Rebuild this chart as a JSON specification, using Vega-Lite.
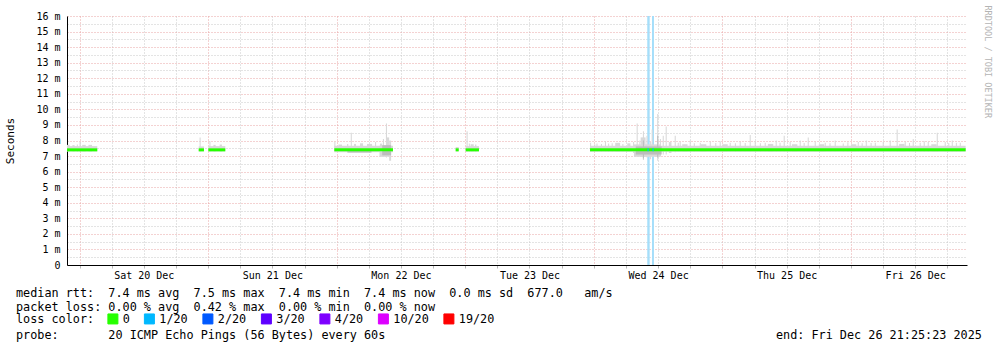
{
  "$schema": "https://vega.github.io/schema/vega-lite/v6.json",
  "width": 900,
  "height": 249,
  "autosize": {"type": "none"},
  "padding": {"left": 67, "top": 16, "right": 30, "bottom": 82},
  "background": "white",
  "config": {"view": {"stroke": null}, "font": "DejaVu Sans Mono"},
  "title": {
    "text": [
      "median rtt:\u00a0\u00a07.4 ms avg\u00a0\u00a07.5 ms max\u00a0\u00a07.4 ms min\u00a0\u00a07.4 ms now\u00a0\u00a00.0 ms sd\u00a0\u00a0677.0\u00a0\u00a0\u00a0am/s",
      "packet loss: 0.00 % avg\u00a0\u00a00.42 % max\u00a0\u00a00.00 % min\u00a0\u00a00.00 % now"
    ],
    "subtitle": "probe:\u00a0\u00a0\u00a0\u00a0\u00a0\u00a0\u00a020 ICMP Echo Pings (56 Bytes) every 60s\u00a0\u00a0\u00a0\u00a0\u00a0\u00a0\u00a0\u00a0\u00a0\u00a0\u00a0\u00a0\u00a0\u00a0\u00a0\u00a0\u00a0\u00a0\u00a0\u00a0\u00a0\u00a0\u00a0\u00a0\u00a0\u00a0\u00a0\u00a0\u00a0\u00a0\u00a0\u00a0\u00a0\u00a0\u00a0\u00a0\u00a0\u00a0\u00a0\u00a0\u00a0\u00a0\u00a0\u00a0\u00a0\u00a0\u00a0\u00a0\u00a0\u00a0\u00a0\u00a0\u00a0\u00a0\u00a0end: Fri Dec 26 21:25:23 2025",
    "orient": "bottom",
    "anchor": "start",
    "frame": "group",
    "dx": -51,
    "dy": -42,
    "offset": 4,
    "font": "DejaVu Sans Mono",
    "fontSize": 11.8,
    "fontWeight": "normal",
    "color": "#000000",
    "lineHeight": 14,
    "baseline": "top",
    "subtitleFont": "DejaVu Sans Mono",
    "subtitleFontSize": 11.8,
    "subtitleFontWeight": "normal",
    "subtitleColor": "#000000",
    "subtitleLineHeight": 14,
    "subtitlePadding": 16
  },
  "datasets": {
    "lossbg": [
      {"t": "2025-12-24T09:59", "t2": "2025-12-24T10:26"},
      {"t": "2025-12-24T10:52", "t2": "2025-12-24T11:14"}
    ],
    "smokeOuter": [
      {"t": "2025-12-19T21:40", "t2": "2025-12-20T03:19", "lo": 7.30, "hi": 7.64},
      {"t": "2025-12-19T21:40", "t2": "2025-12-19T22:10", "lo": 7.30, "hi": 7.72},
      {"t": "2025-12-19T22:40", "t2": "2025-12-19T23:05", "lo": 7.30, "hi": 7.70},
      {"t": "2025-12-19T23:30", "t2": "2025-12-19T23:42", "lo": 7.30, "hi": 7.75},
      {"t": "2025-12-20T00:00", "t2": "2025-12-20T00:15", "lo": 7.30, "hi": 7.92},
      {"t": "2025-12-20T00:30", "t2": "2025-12-20T01:10", "lo": 7.30, "hi": 7.72},
      {"t": "2025-12-20T01:40", "t2": "2025-12-20T02:20", "lo": 7.30, "hi": 7.72},
      {"t": "2025-12-20T22:15", "t2": "2025-12-20T23:14", "lo": 7.30, "hi": 7.62},
      {"t": "2025-12-20T22:25", "t2": "2025-12-20T22:37", "lo": 7.30, "hi": 8.20},
      {"t": "2025-12-21T00:03", "t2": "2025-12-21T03:13", "lo": 7.30, "hi": 7.64},
      {"t": "2025-12-21T00:15", "t2": "2025-12-21T00:27", "lo": 7.30, "hi": 7.95},
      {"t": "2025-12-21T01:00", "t2": "2025-12-21T01:25", "lo": 7.30, "hi": 7.72},
      {"t": "2025-12-21T02:10", "t2": "2025-12-21T02:35", "lo": 7.30, "hi": 7.74},
      {"t": "2025-12-21T23:34", "t2": "2025-12-22T10:31", "lo": 7.25, "hi": 7.67},
      {"t": "2025-12-21T23:34", "t2": "2025-12-21T23:46", "lo": 7.30, "hi": 7.90},
      {"t": "2025-12-22T00:20", "t2": "2025-12-22T01:00", "lo": 7.30, "hi": 7.74},
      {"t": "2025-12-22T01:57", "t2": "2025-12-22T02:10", "lo": 7.30, "hi": 7.78},
      {"t": "2025-12-22T02:38", "t2": "2025-12-22T02:50", "lo": 7.30, "hi": 8.50},
      {"t": "2025-12-22T03:15", "t2": "2025-12-22T03:37", "lo": 7.30, "hi": 7.78},
      {"t": "2025-12-22T04:22", "t2": "2025-12-22T04:56", "lo": 7.30, "hi": 7.82},
      {"t": "2025-12-22T05:40", "t2": "2025-12-22T06:37", "lo": 7.30, "hi": 7.78},
      {"t": "2025-12-22T07:10", "t2": "2025-12-22T07:22", "lo": 7.30, "hi": 7.90},
      {"t": "2025-12-22T08:00", "t2": "2025-12-22T09:12", "lo": 6.95, "hi": 7.66},
      {"t": "2025-12-22T08:05", "t2": "2025-12-22T08:30", "lo": 7.00, "hi": 7.80},
      {"t": "2025-12-22T08:38", "t2": "2025-12-22T08:50", "lo": 7.00, "hi": 8.10},
      {"t": "2025-12-22T09:12", "t2": "2025-12-22T09:24", "lo": 6.90, "hi": 9.10},
      {"t": "2025-12-22T09:24", "t2": "2025-12-22T09:48", "lo": 6.95, "hi": 8.20},
      {"t": "2025-12-22T09:48", "t2": "2025-12-22T10:10", "lo": 6.70, "hi": 8.00},
      {"t": "2025-12-22T22:13", "t2": "2025-12-22T22:47", "lo": 7.30, "hi": 7.58},
      {"t": "2025-12-23T00:05", "t2": "2025-12-23T02:34", "lo": 7.30, "hi": 7.64},
      {"t": "2025-12-23T00:15", "t2": "2025-12-23T00:27", "lo": 7.30, "hi": 8.60},
      {"t": "2025-12-23T00:40", "t2": "2025-12-23T00:52", "lo": 7.30, "hi": 7.80},
      {"t": "2025-12-23T01:00", "t2": "2025-12-23T01:35", "lo": 7.30, "hi": 7.76},
      {"t": "2025-12-23T01:50", "t2": "2025-12-23T02:05", "lo": 7.30, "hi": 7.74},
      {"t": "2025-12-23T23:18", "t2": "2025-12-26T21:25", "lo": 7.27, "hi": 7.67},
      {"t": "2025-12-23T23:18", "t2": "2025-12-23T23:30", "lo": 7.30, "hi": 7.85},
      {"t": "2025-12-24T00:05", "t2": "2025-12-24T00:17", "lo": 7.30, "hi": 7.76},
      {"t": "2025-12-24T00:30", "t2": "2025-12-24T00:42", "lo": 7.30, "hi": 7.80},
      {"t": "2025-12-24T01:20", "t2": "2025-12-24T01:32", "lo": 7.30, "hi": 7.78},
      {"t": "2025-12-24T02:05", "t2": "2025-12-24T02:17", "lo": 7.30, "hi": 7.95},
      {"t": "2025-12-24T02:40", "t2": "2025-12-24T02:52", "lo": 7.30, "hi": 7.80},
      {"t": "2025-12-24T03:20", "t2": "2025-12-24T03:32", "lo": 7.30, "hi": 7.82},
      {"t": "2025-12-24T04:00", "t2": "2025-12-24T04:55", "lo": 7.30, "hi": 7.85},
      {"t": "2025-12-24T05:20", "t2": "2025-12-24T05:32", "lo": 7.30, "hi": 7.78},
      {"t": "2025-12-24T06:15", "t2": "2025-12-24T06:50", "lo": 7.30, "hi": 7.82},
      {"t": "2025-12-24T07:20", "t2": "2025-12-24T07:32", "lo": 7.20, "hi": 7.90},
      {"t": "2025-12-24T07:30", "t2": "2025-12-24T12:30", "lo": 6.95, "hi": 7.75},
      {"t": "2025-12-24T08:00", "t2": "2025-12-24T08:12", "lo": 7.10, "hi": 9.10},
      {"t": "2025-12-24T08:30", "t2": "2025-12-24T08:42", "lo": 7.00, "hi": 8.00},
      {"t": "2025-12-24T08:45", "t2": "2025-12-24T09:40", "lo": 6.95, "hi": 8.20},
      {"t": "2025-12-24T09:10", "t2": "2025-12-24T09:22", "lo": 6.75, "hi": 8.60},
      {"t": "2025-12-24T09:50", "t2": "2025-12-24T10:02", "lo": 6.90, "hi": 8.30},
      {"t": "2025-12-24T10:30", "t2": "2025-12-24T10:42", "lo": 6.80, "hi": 7.90},
      {"t": "2025-12-24T10:48", "t2": "2025-12-24T11:00", "lo": 6.95, "hi": 8.70},
      {"t": "2025-12-24T11:50", "t2": "2025-12-24T12:02", "lo": 6.70, "hi": 9.70},
      {"t": "2025-12-24T12:20", "t2": "2025-12-24T12:32", "lo": 7.00, "hi": 8.10},
      {"t": "2025-12-24T12:52", "t2": "2025-12-24T13:04", "lo": 7.10, "hi": 8.30},
      {"t": "2025-12-24T13:25", "t2": "2025-12-24T13:37", "lo": 7.10, "hi": 8.90},
      {"t": "2025-12-24T14:00", "t2": "2025-12-24T14:30", "lo": 7.20, "hi": 7.90},
      {"t": "2025-12-24T15:06", "t2": "2025-12-24T15:18", "lo": 7.25, "hi": 8.30},
      {"t": "2025-12-24T15:40", "t2": "2025-12-24T15:52", "lo": 7.30, "hi": 7.85},
      {"t": "2025-12-24T16:02", "t2": "2025-12-24T16:14", "lo": 7.30, "hi": 7.90},
      {"t": "2025-12-24T16:30", "t2": "2025-12-24T17:30", "lo": 7.30, "hi": 7.76},
      {"t": "2025-12-24T17:54", "t2": "2025-12-24T18:06", "lo": 7.30, "hi": 8.00},
      {"t": "2025-12-24T18:40", "t2": "2025-12-24T18:52", "lo": 7.30, "hi": 7.82},
      {"t": "2025-12-24T19:47", "t2": "2025-12-24T19:59", "lo": 7.30, "hi": 7.85},
      {"t": "2025-12-24T20:00", "t2": "2025-12-24T21:00", "lo": 7.30, "hi": 7.76},
      {"t": "2025-12-24T21:39", "t2": "2025-12-24T21:51", "lo": 7.30, "hi": 7.90},
      {"t": "2025-12-24T22:40", "t2": "2025-12-24T22:52", "lo": 7.30, "hi": 7.84},
      {"t": "2025-12-24T23:30", "t2": "2025-12-24T23:42", "lo": 7.30, "hi": 7.95},
      {"t": "2025-12-25T00:00", "t2": "2025-12-25T01:00", "lo": 7.30, "hi": 7.76},
      {"t": "2025-12-25T01:22", "t2": "2025-12-25T01:34", "lo": 7.30, "hi": 7.85},
      {"t": "2025-12-25T02:20", "t2": "2025-12-25T02:32", "lo": 7.30, "hi": 7.82},
      {"t": "2025-12-25T03:14", "t2": "2025-12-25T03:26", "lo": 7.30, "hi": 7.90},
      {"t": "2025-12-25T04:10", "t2": "2025-12-25T04:22", "lo": 7.30, "hi": 7.84},
      {"t": "2025-12-25T05:06", "t2": "2025-12-25T05:18", "lo": 7.30, "hi": 8.35},
      {"t": "2025-12-25T06:02", "t2": "2025-12-25T06:14", "lo": 7.30, "hi": 7.95},
      {"t": "2025-12-25T07:00", "t2": "2025-12-25T07:12", "lo": 7.30, "hi": 7.82},
      {"t": "2025-12-25T07:54", "t2": "2025-12-25T08:06", "lo": 7.30, "hi": 7.85},
      {"t": "2025-12-25T08:30", "t2": "2025-12-25T09:30", "lo": 7.30, "hi": 7.78},
      {"t": "2025-12-25T09:57", "t2": "2025-12-25T10:09", "lo": 7.30, "hi": 8.00},
      {"t": "2025-12-25T10:40", "t2": "2025-12-25T10:52", "lo": 7.30, "hi": 7.86},
      {"t": "2025-12-25T11:27", "t2": "2025-12-25T11:39", "lo": 7.30, "hi": 8.30},
      {"t": "2025-12-25T12:34", "t2": "2025-12-25T12:46", "lo": 7.30, "hi": 7.90},
      {"t": "2025-12-25T13:00", "t2": "2025-12-25T14:00", "lo": 7.30, "hi": 7.76},
      {"t": "2025-12-25T14:26", "t2": "2025-12-25T14:38", "lo": 7.30, "hi": 8.00},
      {"t": "2025-12-25T15:10", "t2": "2025-12-25T15:22", "lo": 7.30, "hi": 7.84},
      {"t": "2025-12-25T15:56", "t2": "2025-12-25T16:08", "lo": 7.30, "hi": 8.20},
      {"t": "2025-12-25T17:14", "t2": "2025-12-25T17:26", "lo": 7.30, "hi": 7.90},
      {"t": "2025-12-25T18:00", "t2": "2025-12-25T19:00", "lo": 7.30, "hi": 7.76},
      {"t": "2025-12-25T19:06", "t2": "2025-12-25T19:18", "lo": 7.30, "hi": 7.85},
      {"t": "2025-12-25T20:00", "t2": "2025-12-25T20:12", "lo": 7.30, "hi": 7.82},
      {"t": "2025-12-25T20:58", "t2": "2025-12-25T21:10", "lo": 7.30, "hi": 8.00},
      {"t": "2025-12-25T22:28", "t2": "2025-12-25T22:40", "lo": 7.30, "hi": 7.80},
      {"t": "2025-12-25T23:20", "t2": "2025-12-25T23:32", "lo": 7.30, "hi": 7.88},
      {"t": "2025-12-26T00:00", "t2": "2025-12-26T01:00", "lo": 7.30, "hi": 7.76},
      {"t": "2025-12-26T01:16", "t2": "2025-12-26T01:28", "lo": 7.30, "hi": 7.90},
      {"t": "2025-12-26T02:00", "t2": "2025-12-26T02:12", "lo": 7.30, "hi": 7.82},
      {"t": "2025-12-26T02:46", "t2": "2025-12-26T02:58", "lo": 7.30, "hi": 8.00},
      {"t": "2025-12-26T03:40", "t2": "2025-12-26T03:52", "lo": 7.30, "hi": 7.84},
      {"t": "2025-12-26T04:27", "t2": "2025-12-26T04:39", "lo": 7.30, "hi": 7.85},
      {"t": "2025-12-26T05:56", "t2": "2025-12-26T06:08", "lo": 7.30, "hi": 7.90},
      {"t": "2025-12-26T07:14", "t2": "2025-12-26T07:26", "lo": 7.30, "hi": 8.00},
      {"t": "2025-12-26T08:32", "t2": "2025-12-26T08:44", "lo": 7.30, "hi": 8.70},
      {"t": "2025-12-26T09:00", "t2": "2025-12-26T10:00", "lo": 7.30, "hi": 7.78},
      {"t": "2025-12-26T10:02", "t2": "2025-12-26T10:14", "lo": 7.30, "hi": 7.90},
      {"t": "2025-12-26T10:50", "t2": "2025-12-26T11:02", "lo": 7.30, "hi": 7.84},
      {"t": "2025-12-26T11:32", "t2": "2025-12-26T11:44", "lo": 7.30, "hi": 8.10},
      {"t": "2025-12-26T12:50", "t2": "2025-12-26T13:02", "lo": 7.30, "hi": 7.85},
      {"t": "2025-12-26T13:35", "t2": "2025-12-26T13:47", "lo": 7.30, "hi": 7.95},
      {"t": "2025-12-26T14:20", "t2": "2025-12-26T14:32", "lo": 7.30, "hi": 7.90},
      {"t": "2025-12-26T15:00", "t2": "2025-12-26T16:00", "lo": 7.30, "hi": 7.76},
      {"t": "2025-12-26T16:01", "t2": "2025-12-26T16:13", "lo": 7.30, "hi": 8.50},
      {"t": "2025-12-26T17:30", "t2": "2025-12-26T17:42", "lo": 7.30, "hi": 7.90},
      {"t": "2025-12-26T18:10", "t2": "2025-12-26T18:22", "lo": 7.30, "hi": 7.84},
      {"t": "2025-12-26T18:49", "t2": "2025-12-26T19:01", "lo": 7.30, "hi": 8.00},
      {"t": "2025-12-26T19:35", "t2": "2025-12-26T19:47", "lo": 7.30, "hi": 7.86},
      {"t": "2025-12-26T20:19", "t2": "2025-12-26T20:31", "lo": 7.30, "hi": 7.85}
    ],
    "smokeInner": [
      {"t": "2025-12-22T02:00", "t2": "2025-12-22T06:30", "lo": 7.22, "hi": 7.40},
      {"t": "2025-12-22T08:30", "t2": "2025-12-22T10:10", "lo": 7.05, "hi": 7.70},
      {"t": "2025-12-24T07:50", "t2": "2025-12-24T12:40", "lo": 7.10, "hi": 7.62},
      {"t": "2025-12-24T09:10", "t2": "2025-12-24T09:22", "lo": 6.85, "hi": 8.00},
      {"t": "2025-12-24T11:50", "t2": "2025-12-24T12:02", "lo": 6.90, "hi": 8.30}
    ],
    "median": [
      {"t": "2025-12-19T21:40", "t2": "2025-12-20T03:19", "v": 7.40, "loss": "0"},
      {"t": "2025-12-20T22:15", "t2": "2025-12-20T23:14", "v": 7.40, "loss": "0"},
      {"t": "2025-12-21T00:03", "t2": "2025-12-21T03:13", "v": 7.40, "loss": "0"},
      {"t": "2025-12-21T23:34", "t2": "2025-12-22T10:31", "v": 7.40, "loss": "0"},
      {"t": "2025-12-22T22:13", "t2": "2025-12-22T22:47", "v": 7.40, "loss": "0"},
      {"t": "2025-12-23T00:05", "t2": "2025-12-23T02:34", "v": 7.40, "loss": "0"},
      {"t": "2025-12-23T23:18", "t2": "2025-12-26T21:25", "v": 7.40, "loss": "0"},
      {"t": "2025-12-24T10:02", "t2": "2025-12-24T10:14", "v": 7.40, "loss": "1/20"},
      {"t": "2025-12-24T10:58", "t2": "2025-12-24T11:10", "v": 7.40, "loss": "1/20"}
    ]
  },
  "encoding": {
    "x": {
      "field": "t", "type": "temporal",
      "scale": {"domain": [
        {"year": 2025, "month": 12, "date": 19, "hours": 21, "minutes": 40},
        {"year": 2025, "month": 12, "date": 26, "hours": 21, "minutes": 40}
      ]},
      "axis": {
        "title": null,
        "values": [
          {"year": 2025, "month": 12, "date": 20, "hours": 0}, {"year": 2025, "month": 12, "date": 20, "hours": 6},
          {"year": 2025, "month": 12, "date": 20, "hours": 12}, {"year": 2025, "month": 12, "date": 20, "hours": 18},
          {"year": 2025, "month": 12, "date": 21, "hours": 0}, {"year": 2025, "month": 12, "date": 21, "hours": 6},
          {"year": 2025, "month": 12, "date": 21, "hours": 12}, {"year": 2025, "month": 12, "date": 21, "hours": 18},
          {"year": 2025, "month": 12, "date": 22, "hours": 0}, {"year": 2025, "month": 12, "date": 22, "hours": 6},
          {"year": 2025, "month": 12, "date": 22, "hours": 12}, {"year": 2025, "month": 12, "date": 22, "hours": 18},
          {"year": 2025, "month": 12, "date": 23, "hours": 0}, {"year": 2025, "month": 12, "date": 23, "hours": 6},
          {"year": 2025, "month": 12, "date": 23, "hours": 12}, {"year": 2025, "month": 12, "date": 23, "hours": 18},
          {"year": 2025, "month": 12, "date": 24, "hours": 0}, {"year": 2025, "month": 12, "date": 24, "hours": 6},
          {"year": 2025, "month": 12, "date": 24, "hours": 12}, {"year": 2025, "month": 12, "date": 24, "hours": 18},
          {"year": 2025, "month": 12, "date": 25, "hours": 0}, {"year": 2025, "month": 12, "date": 25, "hours": 6},
          {"year": 2025, "month": 12, "date": 25, "hours": 12}, {"year": 2025, "month": 12, "date": 25, "hours": 18},
          {"year": 2025, "month": 12, "date": 26, "hours": 0}, {"year": 2025, "month": 12, "date": 26, "hours": 6},
          {"year": 2025, "month": 12, "date": 26, "hours": 12}, {"year": 2025, "month": 12, "date": 26, "hours": 18}
        ],
        "labelExpr": "hours(datum.value) === 12 ? timeFormat(datum.value, '%a %d %b') : ''",
        "labelOverlap": false, "labelFlush": false,
        "labelFont": "DejaVu Sans Mono", "labelFontSize": 10, "labelColor": "#000000",
        "labelPadding": 2, "ticks": true, "tickSize": 3, "tickColor": "#b8b8b8",
        "grid": true, "gridDash": [1, 2], "gridWidth": 1,
        "gridColor": {"condition": {"test": "hours(datum.value) === 0", "value": "#e8a4a4"}, "value": "#c8c8c8"},
        "domainColor": "#000000", "domainWidth": 1
      }
    },
    "x2": {"field": "t2"}
  },
  "layer": [
    {
      "data": {"name": "lossbg"},
      "mark": {"type": "rect", "color": "#a5defa"},
      "encoding": {
        "y": {"datum": 0, "type": "quantitative", "axis": null},
        "y2": {"datum": 16}
      }
    },
    {
      "data": {"name": "smokeOuter"},
      "mark": {"type": "rect", "color": "#d9d9d9"},
      "encoding": {
        "y": {
          "field": "lo", "type": "quantitative",
          "axis": {
            "orient": "right", "title": "RRDTOOL / TOBI OETIKER",
            "labels": false, "ticks": false, "domain": false, "grid": false,
            "titleAngle": 90, "titleX": 20, "titleY": -11, "titleAlign": "left",
            "titleBaseline": "middle", "titleFont": "DejaVu Sans Mono", "titleFontSize": 8.5,
            "titleFontWeight": "normal", "titleColor": "#b4b4b4"
          }
        },
        "y2": {"field": "hi"}
      }
    },
    {
      "data": {"name": "smokeInner"},
      "mark": {"type": "rect", "color": "#bdbdbd"},
      "encoding": {
        "y": {"field": "lo", "type": "quantitative", "axis": null},
        "y2": {"field": "hi"}
      }
    },
    {
      "data": {"name": "median"},
      "mark": {"type": "rule", "strokeWidth": 3, "strokeCap": "butt"},
      "encoding": {
        "y": {
          "field": "v", "type": "quantitative",
          "scale": {"domain": [0, 16], "nice": false, "zero": true},
          "axis": {
            "title": "Seconds",
            "values": [0, 0.5, 1, 1.5, 2, 2.5, 3, 3.5, 4, 4.5, 5, 5.5, 6, 6.5, 7, 7.5, 8, 8.5, 9, 9.5, 10, 10.5, 11, 11.5, 12, 12.5, 13, 13.5, 14, 14.5, 15, 15.5, 16],
            "labelExpr": "datum.value === 0 ? '0' : (datum.value % 1 === 0 ? datum.value + ' m' : '')",
            "labelOverlap": false, "labelFlush": false,
            "labelFont": "DejaVu Sans Mono", "labelFontSize": 10, "labelColor": "#000000",
            "labelPadding": 7, "ticks": false,
            "grid": true, "gridDash": [1, 2], "gridWidth": 1,
            "gridColor": {"condition": {"test": "datum.value % 1 === 0", "value": "#e8a4a4"}, "value": "#c8c8c8"},
            "domainColor": "#000000", "domainWidth": 1,
            "titleFont": "DejaVu Sans Mono", "titleFontSize": 11, "titleFontWeight": "normal",
            "titleColor": "#000000", "titleX": -57, "titleY": 124.5, "titleAngle": -90,
            "titleAlign": "center", "titleBaseline": "middle"
          }
        },
        "color": {
          "field": "loss", "type": "nominal",
          "scale": {
            "domain": ["0", "1/20", "2/20", "3/20", "4/20", "10/20", "19/20"],
            "range": ["#26ff00", "#00b8ff", "#0059ff", "#5e00ff", "#7e00ff", "#dd00ff", "#ff0000"]
          },
          "legend": {
            "title": "loss color:",
            "orient": "none", "legendX": -51, "legendY": 297,
            "direction": "horizontal",
            "titleOrient": "left", "titleFont": "DejaVu Sans Mono", "titleFontSize": 11.8,
            "titleFontWeight": "normal", "titleColor": "#000000", "titlePadding": 12,
            "titleBaseline": "middle",
            "labelFont": "DejaVu Sans Mono", "labelFontSize": 11.8, "labelColor": "#000000",
            "labelOffset": 4, "columnPadding": 11.5,
            "symbolType": "square", "symbolSize": 100,
            "encode": {
              "symbols": {
                "update": {
                  "fill": {"scale": "color", "field": "value"},
                  "stroke": {"value": "#000000"},
                  "strokeWidth": {"value": 1},
                  "shape": {"value": "square"},
                  "size": {"value": 100},
                  "opacity": {"value": 1}
                }
              }
            }
          }
        }
      }
    },
    {
      "mark": {"type": "rule", "color": "#000000", "strokeWidth": 1},
      "encoding": {
        "x": {"datum": {"year": 2025, "month": 12, "date": 19, "hours": 21, "minutes": 40}, "type": "temporal"},
        "x2": null,
        "y": {"datum": 16, "type": "quantitative", "axis": null},
        "y2": {"datum": 16.3}
      }
    },
    {
      "mark": {"type": "point", "shape": "triangle-up", "filled": true, "color": "#8b1a1a", "size": 40, "opacity": 1},
      "encoding": {
        "x": {"datum": {"year": 2025, "month": 12, "date": 19, "hours": 21, "minutes": 40}, "type": "temporal"},
        "x2": null,
        "y": {"datum": 16.38, "type": "quantitative", "axis": null}
      }
    },
    {
      "mark": {"type": "rule", "color": "#000000", "strokeWidth": 1},
      "encoding": {
        "x": {"datum": {"year": 2025, "month": 12, "date": 26, "hours": 21, "minutes": 40}, "type": "temporal"},
        "x2": {"datum": {"year": 2025, "month": 12, "date": 26, "hours": 22, "minutes": 15}},
        "y": {"datum": 0, "type": "quantitative", "axis": null}
      }
    },
    {
      "mark": {"type": "point", "shape": "triangle-right", "filled": true, "color": "#8b1a1a", "size": 40, "opacity": 1},
      "encoding": {
        "x": {"datum": {"year": 2025, "month": 12, "date": 26, "hours": 22, "minutes": 25}, "type": "temporal"},
        "x2": null,
        "y": {"datum": 0, "type": "quantitative", "axis": null}
      }
    }
  ],
  "resolve": {"axis": {"y": "independent"}}
}
